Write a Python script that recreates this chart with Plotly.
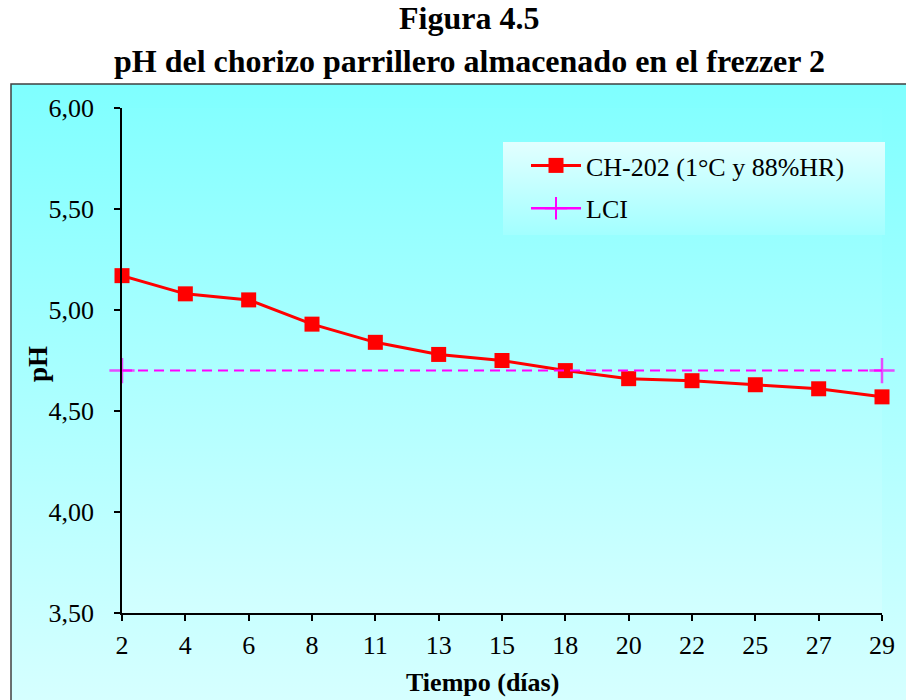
import base64
import plotly.graph_objects as go

# Storage days and measured pH of the sample
dias = ["2", "4", "6", "8", "11", "13", "15", "18", "20", "22", "25", "27", "29"]
ph_ch202 = [5.17, 5.08, 5.05, 4.93, 4.84, 4.78, 4.75, 4.70, 4.66, 4.65, 4.63, 4.61, 4.57]
# Lower control limit (LCI)
lci = [4.70] * len(dias)
lci_marker_sizes = [18] + [0] * (len(dias) - 2) + [18]

y_ticks = [3.5, 4.0, 4.5, 5.0, 5.5, 6.0]
y_tick_text = ["3,50", "4,00", "4,50", "5,00", "5,50", "6,00"]

serif = "Liberation Serif, Times New Roman, serif"

W, H = 906, 700
L, R, T, B = 122, 24, 108, 87
pw, ph = W - L - R, H - T - B


def px_x(p):
    return (p - L) / pw


def px_y(p):
    return (H - B - p) / ph


def gradient(top, bottom):
    svg = (
        '<svg xmlns="http://www.w3.org/2000/svg" width="10" height="100" '
        'preserveAspectRatio="none"><defs><linearGradient id="g" x1="0" y1="0" '
        f'x2="0" y2="1"><stop offset="0" stop-color="{top}"/>'
        f'<stop offset="1" stop-color="{bottom}"/></linearGradient></defs>'
        '<rect width="10" height="100" fill="url(#g)"/></svg>'
    )
    return "data:image/svg+xml;base64," + base64.b64encode(svg.encode()).decode()


xi = list(range(len(dias)))

fig = go.Figure()
fig.add_trace(go.Scatter(
    x=xi, y=ph_ch202, name="CH-202 (1°C y 88%HR)",
    mode="lines+markers", cliponaxis=False, legendgroup="ch",
    line=dict(color="#FF0000", width=3),
    marker=dict(symbol="square", size=15, color="#FF0000"),
))
# LCI: dashed limit line with cross markers at both ends
fig.add_trace(go.Scatter(
    x=xi, y=lci, name="LCI", showlegend=False, legendgroup="lci",
    mode="lines+markers", cliponaxis=False,
    line=dict(color="#FF00FF", width=2, dash="10px,6px"),
    marker=dict(symbol="cross-thin", size=lci_marker_sizes, color="#FF00FF",
                line=dict(color="#FF00FF", width=2.5)),
))
# legend key for LCI (solid line with cross)
fig.add_trace(go.Scatter(
    x=[None], y=[None], name="LCI", legendgroup="lci",
    mode="lines+markers",
    line=dict(color="#FF00FF", width=2.5),
    marker=dict(symbol="cross-thin", size=16, color="#FF00FF",
                line=dict(color="#FF00FF", width=2)),
))

images = [
    # chart area background
    dict(source=gradient("#7FFFFF", "#D6FFFF"), xref="paper", yref="paper",
         x=px_x(11), y=px_y(84), sizex=px_x(W + 2) - px_x(11),
         sizey=px_y(84) - px_y(H + 2), sizing="stretch", layer="below",
         xanchor="left", yanchor="top"),
    # plot area background
    dict(source=gradient("#84FFFF", "#D2FFFF"), xref="paper", yref="paper",
         x=0, y=1, sizex=1, sizey=1, sizing="stretch", layer="below",
         xanchor="left", yanchor="top"),
    # legend background
    dict(source=gradient("#E2FFFF", "#A2FFFF"), xref="paper", yref="paper",
         x=px_x(503), y=px_y(142), sizex=px_x(885) - px_x(503),
         sizey=px_y(142) - px_y(235), sizing="stretch", layer="below",
         xanchor="left", yanchor="top"),
]


def label(text, x, y, size, angle=0):
    return dict(text=text, xref="paper", yref="paper", x=px_x(x), y=px_y(y),
                xanchor="center", yanchor="middle", showarrow=False,
                textangle=angle, font=dict(family=serif, size=size))


fig.update_layout(
    width=W, height=H,
    margin=dict(l=L, r=R, t=T, b=B),
    paper_bgcolor="white",
    plot_bgcolor="rgba(0,0,0,0)",
    font=dict(family=serif, size=25, color="black"),
    images=images,
    shapes=[dict(type="rect", xref="paper", yref="paper",
                 x0=px_x(11), x1=px_x(W + 10), y0=px_y(H + 10), y1=px_y(84),
                 line=dict(color="#404040", width=1.5), fillcolor="rgba(0,0,0,0)",
                 layer="below")],
    annotations=[
        label("<b>Figura 4.5</b>", 469, 18, 32),
        label("<b>pH del chorizo parrillero almacenado en el frezzer 2</b>", 469, 61, 32),
        label("<b>pH</b>", 38, 364, 27, -90),
        label("<b>Tiempo (días)</b>", 482, 682, 26),
    ],
    legend=dict(x=px_x(526), y=px_y(142), xanchor="left", yanchor="top",
                bgcolor="rgba(0,0,0,0)", borderwidth=0,
                font=dict(family=serif, size=26), itemwidth=50,
                traceorder="grouped", tracegroupgap=6),
    showlegend=True,
)

fig.update_xaxes(
    range=[0, len(dias) - 1], tickmode="array", tickvals=xi, ticktext=dias,
    showgrid=False, zeroline=False, showline=True, linecolor="black",
    linewidth=1.5, ticks="outside", ticklen=6, tickcolor="black",
    tickwidth=1.5, tickfont=dict(family=serif, size=26), ticklabelstandoff=2,
)
fig.update_yaxes(
    range=[3.5, 6.0], tickmode="array", tickvals=y_ticks, ticktext=y_tick_text,
    showgrid=False, zeroline=False, showline=True, linecolor="black",
    linewidth=1.5, ticks="outside", ticklen=6, tickcolor="black",
    tickwidth=1.5, tickfont=dict(family=serif, size=26), ticklabelstandoff=15,
)

fig.write_html("out.html")
